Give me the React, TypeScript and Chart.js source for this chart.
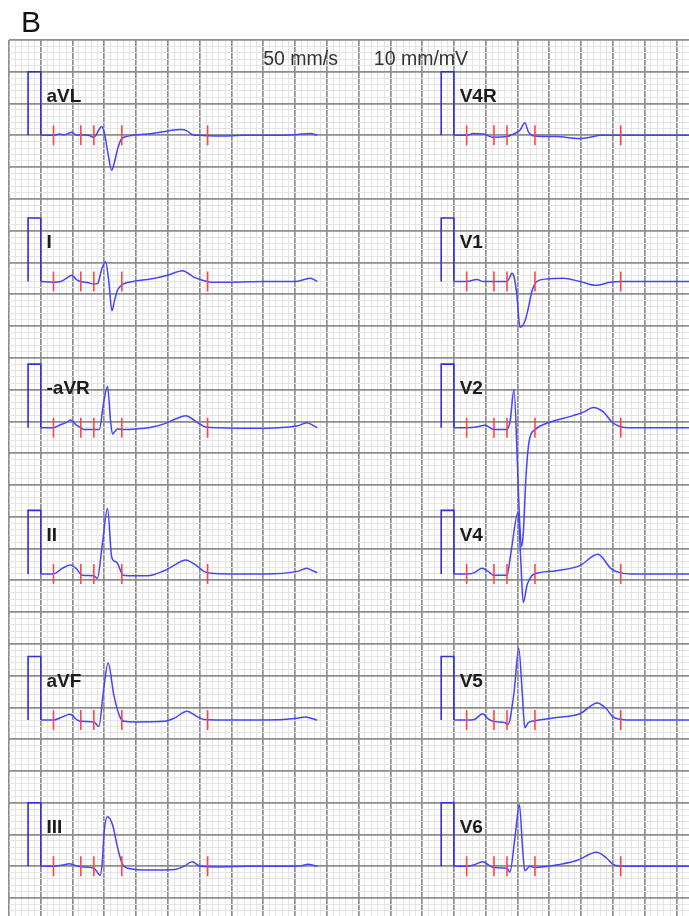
import React, { useEffect, useRef } from "react";
import { Chart, registerables } from "chart.js";

Chart.register(...registerables);

// ---- DATA (time in ms from column start, amplitude in mV) ----
const leftLeads = ["aVL", "I", "-aVR", "II", "aVF", "III"];
const rightLeads = ["V4R", "V1", "V2", "V4", "V5", "V6"];

const aVL: [number, number][] = [[0,0],[40,0],[58,0.02],[75,0.01],[98,0.05],[112,0.0],[126,0.01],[150,0.0],[167,-0.03],[180,0.06],[191,0.14],[200,0.04],[212,-0.3],[223,-0.55],[232,-0.42],[241,-0.23],[252,-0.07],[262,-0.03],[290,0.0],[350,0.03],[400,0.07],[440,0.09],[460,0.07],[478,0.01],[500,0.0],[560,-0.01],[640,0.0],[720,0.0],[800,0.01],[848,0.03],[870,0.0]];
const leadI: [number, number][] = [[0,0],[40,-0.01],[63,0.0],[80,0.05],[98,0.1],[112,0.03],[126,0.0],[150,-0.02],[167,-0.04],[179,-0.03],[192,0.2],[204,0.31],[214,0.0],[224,-0.46],[232,-0.3],[241,-0.14],[256,-0.05],[290,0.0],[346,0.04],[399,0.1],[446,0.17],[481,0.07],[509,0.02],[535,-0.01],[600,-0.01],[700,0.0],[800,0.0],[848,0.05],[870,0.0]];
const negAVR: [number, number][] = [[0,0],[40,0],[63,0.05],[80,0.08],[94,0.12],[110,0.05],[126,0.0],[136,-0.03],[167,-0.03],[184,-0.03],[197,0.37],[210,0.65],[220,0.08],[226,-0.1],[233,-0.06],[241,-0.02],[260,-0.03],[300,-0.02],[340,0.0],[388,0.06],[425,0.14],[456,0.19],[493,0.08],[519,0.01],[560,0.0],[650,-0.01],[750,0.0],[808,0.03],[837,0.08],[855,0.04],[870,0.0]];
const leadII: [number, number][] = [[0,0],[40,0],[68,0.09],[94,0.14],[110,0.09],[131,-0.02],[167,-0.03],[178,-0.07],[194,0.48],[210,1.03],[223,0.27],[232,0.2],[241,0.17],[259,-0.02],[300,-0.03],[336,-0.03],[388,0.05],[425,0.15],[455,0.22],[493,0.12],[513,0.04],[535,0.01],[600,0.0],[700,0.0],[808,0.04],[837,0.09],[855,0.05],[870,0.02]];
const aVF: [number, number][] = [[0,0],[40,0],[68,0.05],[92,0.09],[115,0.0],[131,-0.02],[167,-0.03],[183,-0.1],[197,0.45],[212,0.9],[230,0.39],[249,0.05],[262,-0.02],[300,-0.03],[388,-0.02],[420,0.03],[460,0.14],[493,0.05],[513,0.01],[600,0.0],[700,0.0],[808,0.03],[832,0.05],[850,0.03],[870,0.0]];
const leadIII: [number, number][] = [[0,0],[40,0],[70,0.02],[89,0.04],[110,0.01],[131,-0.01],[167,-0.03],[187,-0.14],[194,0.1],[199,0.52],[210,0.78],[226,0.65],[241,0.31],[257,0.03],[273,-0.03],[346,-0.06],[420,-0.05],[451,0.0],[476,0.07],[503,0.0],[560,-0.01],[650,0.0],[750,0.0],[820,0.01],[840,0.03],[870,0.0]];

const V4R: [number, number][] = [[0,0],[40,0],[61,0.03],[93,0.02],[124,-0.03],[167,-0.02],[187,0.02],[208,0.08],[223,0.2],[234,0.06],[245,0.0],[255,-0.01],[323,-0.02],[396,-0.05],[439,-0.02],[458,0.0],[600,0.0],[870,0.0]];
const V1: [number, number][] = [[0,0],[40,0],[72,0.03],[93,0.0],[126,0.0],[167,0.0],[175,0.06],[182,0.13],[189,0.08],[198,-0.21],[208,-0.72],[223,-0.63],[234,-0.42],[245,-0.16],[261,0.0],[292,0.04],[344,0.05],[397,0.0],[448,-0.06],[491,-0.01],[525,0.0],[600,0.0],[870,0.0]];
const V2: [number, number][] = [[0,0],[40,0],[70,0.01],[98,0.04],[126,-0.03],[167,-0.03],[177,0.11],[189,0.6],[200,-0.6],[207,-1.5],[213,-1.87],[219,-1.6],[227,-0.75],[237,-0.2],[255,-0.03],[292,0.07],[375,0.19],[410,0.25],[438,0.32],[470,0.25],[497,0.09],[522,0.02],[560,0.0],[870,0.0]];
const V4: [number, number][] = [[0,0],[40,0],[65,0.02],[87,0.09],[108,0.04],[124,-0.02],[167,-0.02],[179,0.32],[202,0.97],[210,0.25],[218,-0.45],[231,-0.16],[245,-0.03],[255,0.0],[323,0.05],[396,0.13],[453,0.31],[495,0.08],[522,0.02],[560,0.0],[870,0.0]];
const V5: [number, number][] = [[0,0],[40,0],[65,0.01],[90,0.1],[108,0.02],[124,-0.02],[160,-0.04],[170,-0.07],[189,0.43],[204,1.13],[215,0.43],[223,-0.12],[234,-0.04],[255,-0.01],[323,0.04],[396,0.1],[451,0.27],[481,0.17],[500,0.05],[528,0.01],[560,0.0],[870,0.0]];
const V6: [number, number][] = [[0,0],[40,0],[61,0.02],[90,0.07],[113,0.01],[126,-0.02],[167,-0.03],[176,-0.09],[192,0.45],[206,0.97],[216,0.29],[223,-0.07],[239,0.0],[255,-0.02],[334,0.03],[386,0.09],[449,0.22],[480,0.13],[501,0.03],[533,0.0],[870,0.0]];

const leftData = [aVL, leadI, negAVR, leadII, aVF, leadIII];
const rightData = [V4R, V1, V2, V4, V5, V6];

const markerTimesMs = [40, 126, 167, 255, 525];
const calibrationMv = 1;
const calibrationMs = 40;
const paperSpeedMmPerS = 50;
const gainMmPerMv = 10;
const headerTexts = ["50 mm/s", "10 mm/mV"];
const panelLetter = "B";

// ---- LAYOUT ----
const W = 689;
const H = 916;
const GRID_LEFT = 9;
const GRID_TOP = 40;
const PX_PER_MM = 6.356;
const X_MAX_MM = (W - GRID_LEFT) / PX_PER_MM;
const Y_MAX_MM = (H - GRID_TOP) / PX_PER_MM;
const COL_ORIGIN_MM = [5, 70];
const ROW_BASE_MM = (i: number) => 15 + 23 * i;

const TRACE_COLOR = "#4444ff";
const PULSE_COLOR = "#2e2ee8";
const MARKER_COLOR = "#ff4646";

const msToMm = (ms: number) => (ms * paperSpeedMmPerS) / 1000;

export default function App() {
  const ref = useRef<HTMLCanvasElement | null>(null);

  useEffect(() => {
    if (!ref.current) return;
    const datasets: any[] = [];
    const labels: { text: string; x: number; y: number }[] = [];

    const addLead = (name: string, data: [number, number][], col: number, row: number) => {
      const x0 = COL_ORIGIN_MM[col];
      const base = ROW_BASE_MM(row);
      datasets.push({
        type: "line",
        data: data.map(([t, v]) => ({ x: x0 + msToMm(t), y: base - v * gainMmPerMv })),
        borderColor: TRACE_COLOR,
        borderWidth: 1.5,
        pointRadius: 0,
        cubicInterpolationMode: "monotone",
        fill: false,
        order: 2,
      });
      const pw = msToMm(calibrationMs);
      const ph = calibrationMv * gainMmPerMv;
      datasets.push({
        type: "line",
        data: [
          { x: x0 - pw, y: base },
          { x: x0 - pw, y: base - ph },
          { x: x0, y: base - ph },
          { x: x0, y: base },
        ],
        borderColor: PULSE_COLOR,
        borderWidth: 1.6,
        pointRadius: 0,
        tension: 0,
        fill: false,
        order: 2,
      });
      datasets.push({
        type: "scatter",
        data: markerTimesMs.map((t) => ({ x: x0 + msToMm(t), y: base })),
        pointStyle: "line",
        rotation: 90,
        radius: 10,
        pointRadius: 10,
        pointHoverRadius: 10,
        borderColor: MARKER_COLOR,
        backgroundColor: MARKER_COLOR,
        borderWidth: 1.6,
        showLine: false,
        order: 1,
      });
      labels.push({ text: name, x: x0 + 0.9, y: base - 5.25 });
    };

    leftLeads.forEach((n, i) => addLead(n, leftData[i], 0, i));
    rightLeads.forEach((n, i) => addLead(n, rightData[i], 1, i));

    const textPlugin = {
      id: "ecgText",
      afterDatasetsDraw(chart: any) {
        const { ctx, scales } = chart;
        const xs = scales.x;
        const ys = scales.y;
        ctx.save();
        ctx.textBaseline = "alphabetic";
        ctx.textAlign = "left";
        ctx.fillStyle = "#1c1c1c";
        ctx.font = 'bold 19px "Liberation Sans", Arial, sans-serif';
        labels.forEach((l) => {
          ctx.fillText(l.text, xs.getPixelForValue(l.x), ys.getPixelForValue(l.y));
        });
        ctx.fillStyle = "#333333";
        ctx.font = '19.5px "Liberation Sans", Arial, sans-serif';
        ctx.fillText(headerTexts[0], xs.getPixelForValue(40.0), ys.getPixelForValue(3.95));
        ctx.fillText(headerTexts[1], xs.getPixelForValue(57.4), ys.getPixelForValue(3.95));
        ctx.fillStyle = "#111111";
        ctx.font = '30px "Liberation Sans", Arial, sans-serif';
        ctx.fillText(panelLetter, chart.chartArea.left + 12, chart.chartArea.top - 8);
        ctx.restore();
      },
    };

    const gridColor = (ctx: any) =>
      ctx.tick && Math.round(ctx.tick.value) % 5 === 0 ? "#8e8e8e" : "#e4e4e4";
    const gridWidth = (ctx: any) =>
      ctx.tick && Math.round(ctx.tick.value) % 5 === 0 ? 1.7 : 1;

    const mkTicks = (max: number) => (scale: any) => {
      const arr = [];
      for (let i = 0; i <= Math.floor(max); i++) arr.push({ value: i });
      scale.ticks = arr;
    };

    const chart = new Chart(ref.current, {
      type: "line",
      data: { datasets },
      options: {
        animation: false,
        responsive: false,
        devicePixelRatio: 1,
        events: [],
        layout: { autoPadding: false, padding: { left: GRID_LEFT, top: GRID_TOP, right: 0, bottom: 0 } },
        plugins: { legend: { display: false }, tooltip: { enabled: false } },
        scales: {
          x: {
            type: "linear",
            min: 0,
            max: X_MAX_MM,
            position: "bottom",
            ticks: { display: false },
            border: { display: false },
            grid: { color: gridColor, lineWidth: gridWidth, drawTicks: false },
            afterBuildTicks: mkTicks(X_MAX_MM),
            afterFit: (s: any) => { s.height = 0; },
          },
          y: {
            type: "linear",
            min: 0,
            max: Y_MAX_MM,
            reverse: true,
            position: "left",
            ticks: { display: false },
            border: { display: false },
            grid: { color: gridColor, lineWidth: gridWidth, drawTicks: false },
            afterBuildTicks: mkTicks(Y_MAX_MM),
            afterFit: (s: any) => { s.width = 0; },
          },
        },
      } as any,
      plugins: [textPlugin],
    });
    return () => chart.destroy();
  }, []);

  return (
    <div style={{ position: "absolute", left: 0, top: 0, width: W, height: H, background: "#ffffff" }}>
      <canvas ref={ref} width={W} height={H} style={{ display: "block", width: W, height: H }} />
    </div>
  );
}
